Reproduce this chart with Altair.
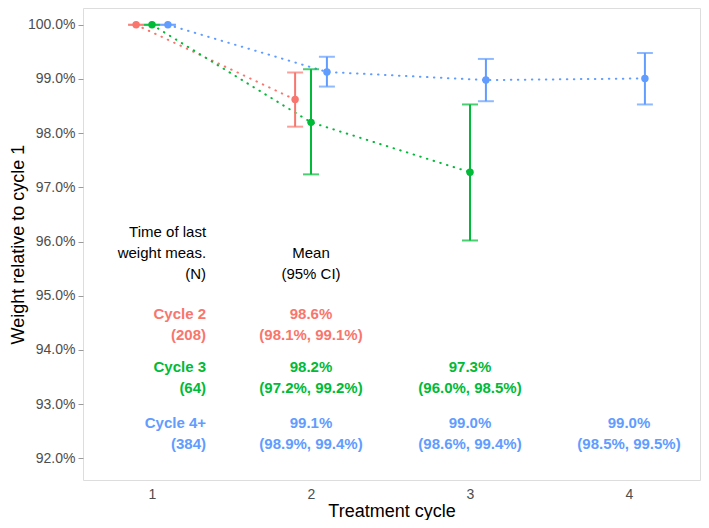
import altair as alt
import pandas as pd

# ---- data ----
series = ["Cycle 2", "Cycle 3", "Cycle 4+"]
series_n = [208, 64, 384]
series_colors = ["#F8766D", "#00BA38", "#619CFF"]
series_dodge = [-0.1, 0.0, 0.1]
series_row_y = [94.67, 93.68, 92.66]       # vertical anchor (first line) of each table row

pt_series = ["Cycle 2", "Cycle 2",
             "Cycle 3", "Cycle 3", "Cycle 3",
             "Cycle 4+", "Cycle 4+", "Cycle 4+", "Cycle 4+"]
pt_cycle = [1, 2, 1, 2, 3, 1, 2, 3, 4]
pt_mean = [100.0, 98.62, 100.0, 98.20, 97.28, 100.0, 99.13, 98.98, 99.01]
pt_lower = [100.0, 98.12, 100.0, 97.24, 96.02, 100.0, 98.86, 98.59, 98.53]
pt_upper = [100.0, 99.12, 100.0, 99.18, 98.53, 100.0, 99.41, 99.37, 99.48]

header_left = "Time of last\nweight meas.\n(N)"
header_left_x, header_left_y = 1.34, 96.18
header_mid = "Mean\n(95% CI)"
header_mid_x, header_mid_y = 2, 95.79
label_x = 1.34

y_ticks = [92, 93, 94, 95, 96, 97, 98, 99, 100]
x_ticks = [1, 2, 3, 4]

# ---- tables ----
dodge = dict(zip(series, series_dodge))
rowy = dict(zip(series, series_row_y))
pts = pd.DataFrame({"series": pt_series, "cycle": pt_cycle, "mean": pt_mean,
                    "lower": pt_lower, "upper": pt_upper})
pts["xpos"] = pts["cycle"] + pts["series"].map(dodge)
pts["rowy"] = pts["series"].map(rowy)
pts["label"] = [f"{m:.1f}%\n({l:.1f}%, {u:.1f}%)" for m, l, u in
                zip(pts["mean"], pts["lower"], pts["upper"])]
tab = pts[pts["cycle"] > 1]

lab = pd.DataFrame({"series": series, "rowy": series_row_y,
                    "label": [f"{s}\n({n})" for s, n in zip(series, series_n)],
                    "x": [label_x] * 3})
hdr = pd.DataFrame({"x": [header_left_x, header_mid_x],
                    "y": [header_left_y, header_mid_y],
                    "label": [header_left, header_mid]})

FONT = "Liberation Sans"
W, H = 617, 472
xscale = alt.Scale(domain=[0.566, 0.566 + W / 159.0], nice=False, zero=False)
yscale = alt.Scale(domain=[91.6, 100.31], nice=False, zero=False)
color = alt.Color("series:N", scale=alt.Scale(domain=series, range=series_colors),
                  legend=None)

xaxis = alt.Axis(values=x_ticks, format="d", ticks=False, domain=False, grid=False,
                 labelFontSize=14, labelColor="#4D4D4D", labelPadding=7,
                 labelFont=FONT, title="Treatment cycle", titleFontSize=18,
                 titleFontWeight="normal", titleColor="black", titleFont=FONT,
                 titlePadding=1)
yaxis = alt.Axis(values=y_ticks, labelExpr="format(datum.value, '.1f') + '%'",
                 tickSize=5, tickColor="#9A9A9A", domain=False, grid=False,
                 labelFontSize=14, labelColor="#4D4D4D", labelPadding=3,
                 labelFont=FONT, title="Weight relative to cycle 1",
                 titleFontSize=18, titleFontWeight="normal", titleColor="black",
                 titleFont=FONT, titleX=-65, titleY=H / 2, titleAngle=270,
                 titleBaseline="middle", titleAlign="center")

base = alt.Chart(pts)
X = alt.X("xpos:Q", scale=xscale, axis=xaxis)
Y = alt.Y("mean:Q", scale=yscale, axis=yaxis)

line = base.mark_line(strokeDash=[0.5, 6.5], strokeWidth=2, strokeCap="round").encode(
    x=X, y=Y, color=color, order="cycle:Q")
rules = base.mark_rule(strokeWidth=2).encode(
    x="xpos:Q", y="lower:Q", y2="upper:Q", color=color)
cap_lo = base.mark_tick(orient="horizontal", size=16, thickness=2).encode(
    x="xpos:Q", y="lower:Q", color=color)
cap_hi = base.mark_tick(orient="horizontal", size=16, thickness=2).encode(
    x="xpos:Q", y="upper:Q", color=color)
points = base.mark_circle(size=55, opacity=1).encode(x="xpos:Q", y="mean:Q", color=color)

means_txt = alt.Chart(tab).mark_text(font=FONT, fontSize=15, fontWeight="bold",
                                     lineBreak="\n", lineHeight=21, baseline="middle",
                                     align="center").encode(
    x="cycle:Q", y="rowy:Q", text="label:N", color=color)
labels_txt = alt.Chart(lab).mark_text(font=FONT, fontSize=15, fontWeight="bold",
                                      lineBreak="\n", lineHeight=21, baseline="middle",
                                      align="right").encode(
    x="x:Q", y="rowy:Q", text="label:N", color=color)
hdr_left = alt.Chart(hdr.iloc[[0]]).mark_text(font=FONT, fontSize=15, color="black",
                                              lineBreak="\n", lineHeight=21,
                                              baseline="middle", align="right").encode(
    x="x:Q", y="y:Q", text="label:N")
hdr_mid = alt.Chart(hdr.iloc[[1]]).mark_text(font=FONT, fontSize=15, color="black",
                                             lineBreak="\n", lineHeight=21,
                                             baseline="middle", align="center").encode(
    x="x:Q", y="y:Q", text="label:N")

chart = alt.layer(line, rules, cap_lo, cap_hi, points, means_txt, labels_txt,
                  hdr_left, hdr_mid).properties(
    width=W, height=H,
    autosize=alt.AutoSizeParams(type="none"),
    padding={"left": 75, "top": 0, "right": 1, "bottom": 40},
).configure_view(stroke="#BDBDBD", strokeWidth=2).configure(background="white")

chart.save("out.html", embed_options={"renderer": "svg", "actions": False})
